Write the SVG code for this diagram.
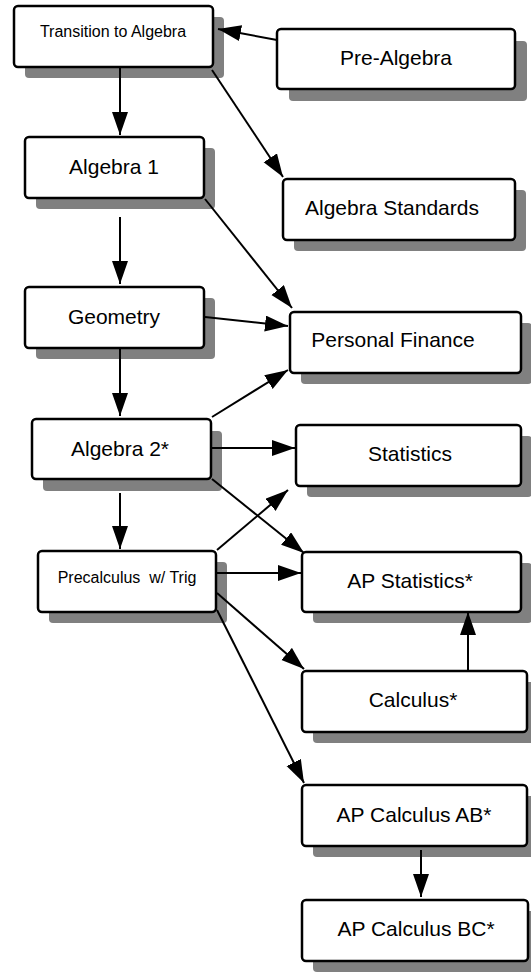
<svg xmlns="http://www.w3.org/2000/svg" width="531" height="972" viewBox="0 0 531 972">
<style>
.sh{fill:#808080}
.bx{fill:#fff;stroke:#000;stroke-width:2.5}
.t{font-family:"Liberation Sans",Arial,sans-serif;font-size:21px;fill:#000;text-anchor:middle}
.s{font-size:16px}
.c line{stroke:#000;stroke-width:2;marker-end:url(#ah)}
</style>
<defs>
<marker id="ah" markerUnits="userSpaceOnUse" markerWidth="26" markerHeight="18" refX="23" refY="8" orient="auto">
<path d="M0,0 L23,8 L0,16 z" fill="#000"/>
</marker>
</defs>
<rect width="531" height="972" fill="#fff"/>
<g id="transition"><rect class="sh" x="25" y="17" width="199" height="61" rx="4"/><rect class="bx" x="14" y="6" width="199" height="61" rx="4"/><text class="t s" x="113" y="37">Transition to Algebra</text></g>
<g id="prealgebra"><rect class="sh" x="289" y="41" width="238" height="60" rx="4"/><rect class="bx" x="277" y="29" width="238" height="60" rx="4"/><text class="t" x="396" y="65">Pre-Algebra</text></g>
<g id="algebra1"><rect class="sh" x="36" y="148" width="179" height="61" rx="4"/><rect class="bx" x="25" y="137" width="179" height="61" rx="4"/><text class="t" x="114" y="174">Algebra 1</text></g>
<g id="algstandards"><rect class="sh" x="294" y="190" width="232" height="61" rx="4"/><rect class="bx" x="283" y="179" width="232" height="61" rx="4"/><text class="t" x="392" y="215">Algebra Standards</text></g>
<g id="geometry"><rect class="sh" x="36" y="298" width="179" height="61" rx="4"/><rect class="bx" x="25" y="287" width="179" height="61" rx="4"/><text class="t" x="114" y="324">Geometry</text></g>
<g id="pfinance"><rect class="sh" x="301" y="323" width="231" height="61" rx="4"/><rect class="bx" x="290" y="312" width="231" height="61" rx="4"/><text class="t" x="393" y="347">Personal Finance</text></g>
<g id="algebra2"><rect class="sh" x="43" y="431" width="179" height="60" rx="4"/><rect class="bx" x="32" y="419" width="179" height="60" rx="4"/><text class="t" x="120" y="456">Algebra 2*</text></g>
<g id="statistics"><rect class="sh" x="307" y="436" width="225" height="61" rx="4"/><rect class="bx" x="296" y="425" width="225" height="61" rx="4"/><text class="t" x="410" y="461">Statistics</text></g>
<g id="precalc"><rect class="sh" x="49" y="562" width="178" height="61" rx="4"/><rect class="bx" x="38" y="551" width="178" height="61" rx="4"/><text class="t s" x="127" y="583" xml:space="preserve">Precalculus  w/ Trig</text></g>
<g id="apstats"><rect class="sh" x="313" y="563" width="219" height="60" rx="4"/><rect class="bx" x="302" y="552" width="219" height="60" rx="4"/><text class="t" x="410" y="588">AP Statistics*</text></g>
<g id="calculus"><rect class="sh" x="313" y="682" width="225" height="61" rx="4"/><rect class="bx" x="302" y="671" width="225" height="61" rx="4"/><text class="t" x="413" y="707">Calculus*</text></g>
<g id="apcalcab"><rect class="sh" x="313" y="796" width="225" height="61" rx="4"/><rect class="bx" x="302" y="785" width="225" height="61" rx="4"/><text class="t" x="414" y="822">AP Calculus AB*</text></g>
<g id="apcalcbc"><rect class="sh" x="313" y="911" width="226" height="61" rx="4"/><rect class="bx" x="302" y="900" width="226" height="61" rx="4"/><text class="t" x="416" y="936">AP Calculus BC*</text></g>
<g id="connectors" class="c">
<line x1="277" y1="40" x2="218" y2="29"/>
<line x1="120" y1="68" x2="120" y2="135"/>
<line x1="212" y1="70" x2="283" y2="177"/>
<line x1="120" y1="217" x2="120" y2="284"/>
<line x1="205" y1="199" x2="292" y2="308"/>
<line x1="205" y1="317" x2="288" y2="326"/>
<line x1="120" y1="349" x2="120" y2="416"/>
<line x1="212" y1="417" x2="288" y2="370"/>
<line x1="212" y1="448" x2="295" y2="448"/>
<line x1="212" y1="479" x2="304" y2="553"/>
<line x1="120" y1="493" x2="120" y2="549"/>
<line x1="217" y1="550" x2="288" y2="490"/>
<line x1="217" y1="573" x2="301" y2="573"/>
<line x1="217" y1="593" x2="304" y2="669"/>
<line x1="217" y1="610" x2="304" y2="783"/>
<line x1="468" y1="670" x2="468" y2="612"/>
<line x1="421" y1="850" x2="421" y2="897"/>
</g>
</svg>
